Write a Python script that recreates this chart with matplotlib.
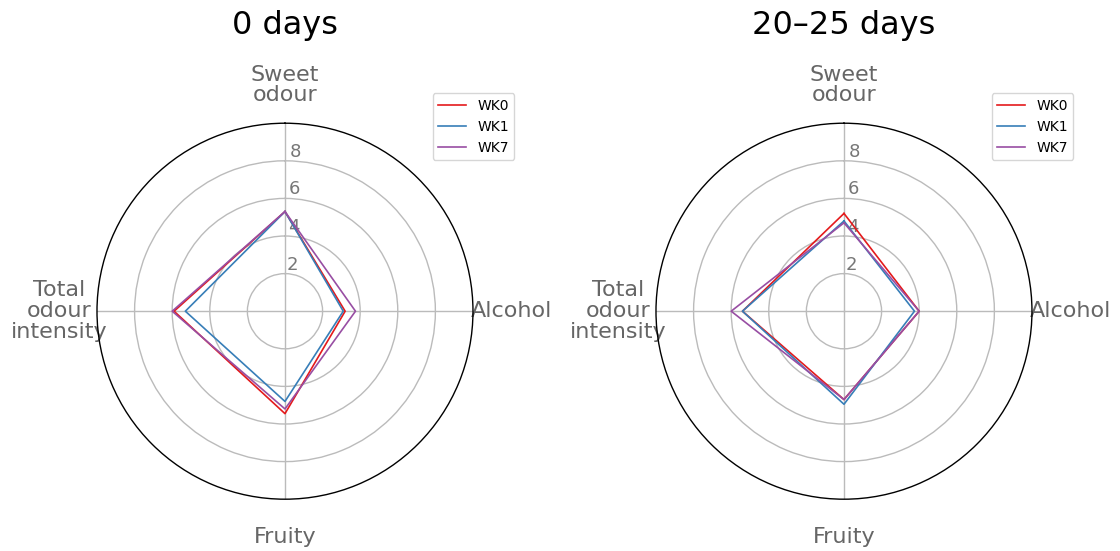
import numpy as np
import matplotlib.pyplot as plt

# sensory attributes, clockwise from top
categories = ["Sweet\nodour", "Alcohol", "Fruity", "Total\nodour\nintensity"]
series = ["WK0", "WK1", "WK7"]
colors = ["#e41a1c", "#377eb8", "#984ea3"]

# panel 1: 0 days
day0_wk0 = [5.3, 3.2, 5.45, 5.9]
day0_wk1 = [5.3, 3.1, 4.8, 5.3]
day0_wk7 = [5.3, 3.75, 5.2, 6.0]

# panel 2: 20-25 days
day20_wk0 = [5.2, 4.0, 4.7, 5.4]
day20_wk1 = [4.8, 3.75, 4.95, 5.4]
day20_wk7 = [4.7, 4.0, 4.7, 6.0]

panels = [
    ("0 days", [day0_wk0, day0_wk1, day0_wk7]),
    ("20\u201325 days", [day20_wk0, day20_wk1, day20_wk7]),
]

angles = np.linspace(0, 2 * np.pi, len(categories), endpoint=False)
closed = np.concatenate([angles, angles[:1]])

fig = plt.figure(figsize=(11.2, 5.51), dpi=100)
rects = [[0.0866, 0.094, 0.3357, 0.6824], [0.5857, 0.094, 0.3357, 0.6824]]

for rect, (title, data) in zip(rects, panels):
    ax = fig.add_axes(rect, projection="polar")
    ax.set_theta_offset(np.pi / 2)
    ax.set_theta_direction(-1)

    for name, vals, c in zip(series, data, colors):
        v = np.concatenate([vals, vals[:1]])
        ax.plot(closed, v, color=c, linewidth=1.2, label=name)

    ax.set_ylim(0, 10)
    ax.set_yticks([2, 4, 6, 8])
    ax.set_yticklabels(["2", "4", "6", "8"], color="#777777", fontsize=13)
    ax.set_rlabel_position(2)
    ax.set_xticks(angles)
    ax.set_xticklabels(categories, color="#666666", fontsize=16,
                       linespacing=1.05)
    ax.tick_params(axis="x", pad=17)
    ax.grid(color="#bbbbbb", linewidth=1.0)
    ax.spines["polar"].set_color("black")
    ax.spines["polar"].set_linewidth(1.0)

    ax.set_title(title, fontsize=23, pad=64)
    ax.legend(loc="upper right", bbox_to_anchor=(1.11, 1.08),
              borderaxespad=0, fontsize=10)

plt.savefig("out.png", dpi=100)
plt.close()
